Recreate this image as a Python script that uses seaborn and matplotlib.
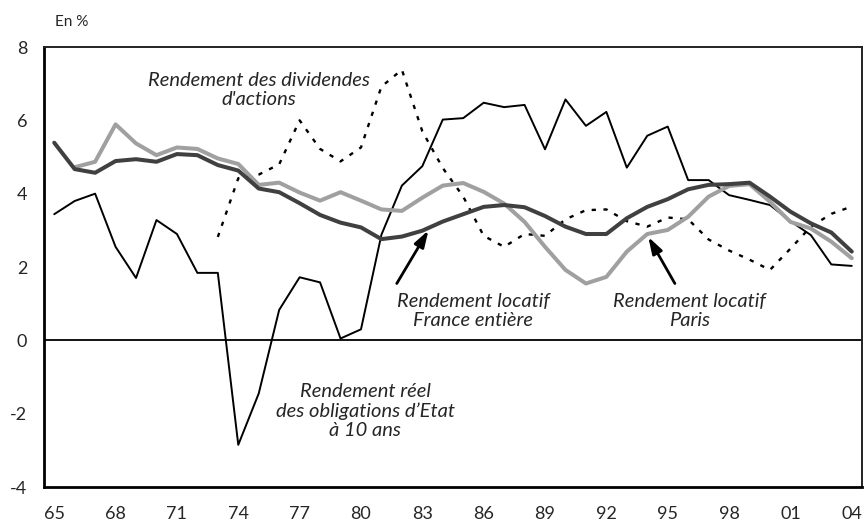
import matplotlib
import matplotlib.pyplot as plt
import numpy as np
import pandas as pd
import seaborn as sns

matplotlib.use("Agg")

years = list(range(1965, 2005))

# rendement reel des obligations d'Etat a 10 ans
bond_yield = [3.44, 3.80, 4.00, 2.55, 1.70, 3.28, 2.90, 1.84, 1.84, -2.85,
              -1.45, 0.83, 1.72, 1.58, 0.05, 0.30, 2.88, 4.22, 4.75, 6.02,
              6.06, 6.48, 6.36, 6.42, 5.21, 6.57, 5.85, 6.23, 4.71, 5.58,
              5.83, 4.37, 4.37, 3.96, 3.83, 3.69, 3.25, 2.87, 2.07, 2.03]

# rendement des dividendes d'actions (a partir de 1973)
dividend_yield = [np.nan] * 8 + [
    2.82, 4.42, 4.52, 4.80, 6.00, 5.22, 4.88, 5.26, 6.92, 7.38,
    5.70, 4.70, 3.92, 2.85, 2.55, 2.90, 2.85, 3.30, 3.55, 3.57,
    3.25, 3.10, 3.35, 3.30, 2.75, 2.45, 2.20, 1.92, 2.50, 3.10,
    3.45, 3.65]

# rendement locatif France entiere
rent_france = [5.39, 4.67, 4.57, 4.89, 4.94, 4.87, 5.08, 5.05, 4.78, 4.63,
               4.14, 4.04, 3.74, 3.42, 3.21, 3.08, 2.76, 2.83, 2.99, 3.24,
               3.44, 3.64, 3.69, 3.63, 3.39, 3.10, 2.90, 2.90, 3.33, 3.64,
               3.85, 4.12, 4.24, 4.26, 4.30, 3.92, 3.51, 3.19, 2.94, 2.42]

# rendement locatif Paris
rent_paris = [np.nan, 4.72, 4.87, 5.89, 5.37, 5.05, 5.26, 5.22, 4.96, 4.81,
              4.24, 4.30, 4.03, 3.81, 4.04, 3.81, 3.57, 3.53, 3.89, 4.22,
              4.29, 4.05, 3.73, 3.23, 2.55, 1.92, 1.55, 1.73, 2.42, 2.90,
              3.01, 3.37, 3.92, 4.21, 4.26, 3.78, 3.23, 3.05, 2.69, 2.24]

tick_years = list(range(1965, 2005, 3))
tick_labels = [f"{y % 100:02d}" for y in tick_years]
y_ticks = [-4, -2, 0, 2, 4, 6, 8]

df = pd.DataFrame({
    "annee": years,
    "obligations": bond_yield,
    "dividendes": dividend_yield,
    "france": rent_france,
    "paris": rent_paris,
})

sns.set_style("white")
plt.rcParams["font.family"] = ["Lato", "DejaVu Sans"]

fig = plt.figure(figsize=(8.65, 5.29), dpi=100)
ax = fig.add_axes([44 / 865, 42 / 529, 818 / 865, 440 / 529])

ax.axhline(0, color="black", lw=1.3, zorder=1)

sns.lineplot(data=df, x="annee", y="obligations", color="black", lw=1.4, ax=ax, zorder=3)
sns.lineplot(data=df, x="annee", y="dividendes", color="black", lw=1.7,
             linestyle=(0, (1.8, 3.2)), ax=ax, zorder=3)
sns.lineplot(data=df, x="annee", y="paris", color="#a0a0a0", lw=2.9, ax=ax, zorder=4)
sns.lineplot(data=df, x="annee", y="france", color="#404040", lw=2.9, ax=ax, zorder=5)

ax.set_xlim(1964.5, 2004.5)
ax.set_ylim(-4, 8)
ax.set_xlabel("")
ax.set_ylabel("")

# labels on year centres, tick marks between categories
ax.set_xticks(tick_years)
ax.set_xticklabels(tick_labels, fontsize=13)
ax.tick_params(axis="x", length=0, pad=14)
ax.set_xticks([y + 0.5 for y in tick_years[1:]], minor=True)
ax.tick_params(axis="x", which="minor", direction="in", length=6, width=1.5, color="black")

ax.set_yticks(y_ticks)
ax.set_yticklabels([str(v) for v in y_ticks], fontsize=13)
ax.tick_params(axis="y", direction="in", length=6, width=1.3, color="black", pad=12)

for side in ["left", "bottom"]:
    ax.spines[side].set_linewidth(2.0)
    ax.spines[side].set_color("black")
for side in ["top", "right"]:
    ax.spines[side].set_linewidth(1.4)
    ax.spines[side].set_color("#222222")

txt = dict(fontsize=14.5, style="italic", ha="center", va="center", linespacing=1.18)
ax.text(1975.0, 6.83, "Rendement des dividendes\nd'actions", **txt)
ax.text(1980.2, -1.93, "Rendement réel\ndes obligations d’Etat\nà 10 ans", **txt)
ax.text(1985.5, 0.8, "Rendement locatif\nFrance entière", **txt)
ax.text(1996.05, 0.8, "Rendement locatif\nParis", **txt)

arrow = dict(arrowstyle="-|>,head_length=1.0,head_width=0.32", color="black", lw=2.0,
             shrinkA=0, shrinkB=0)
ax.annotate("", xy=(1983.3, 3.0), xytext=(1981.75, 1.55), arrowprops=arrow)
ax.annotate("", xy=(1994.05, 2.82), xytext=(1995.35, 1.55), arrowprops=arrow)

fig.text(55 / 865, 1 - 22 / 529, "En %", fontsize=11, ha="left", va="center")

fig.savefig("out.png", dpi=100)
